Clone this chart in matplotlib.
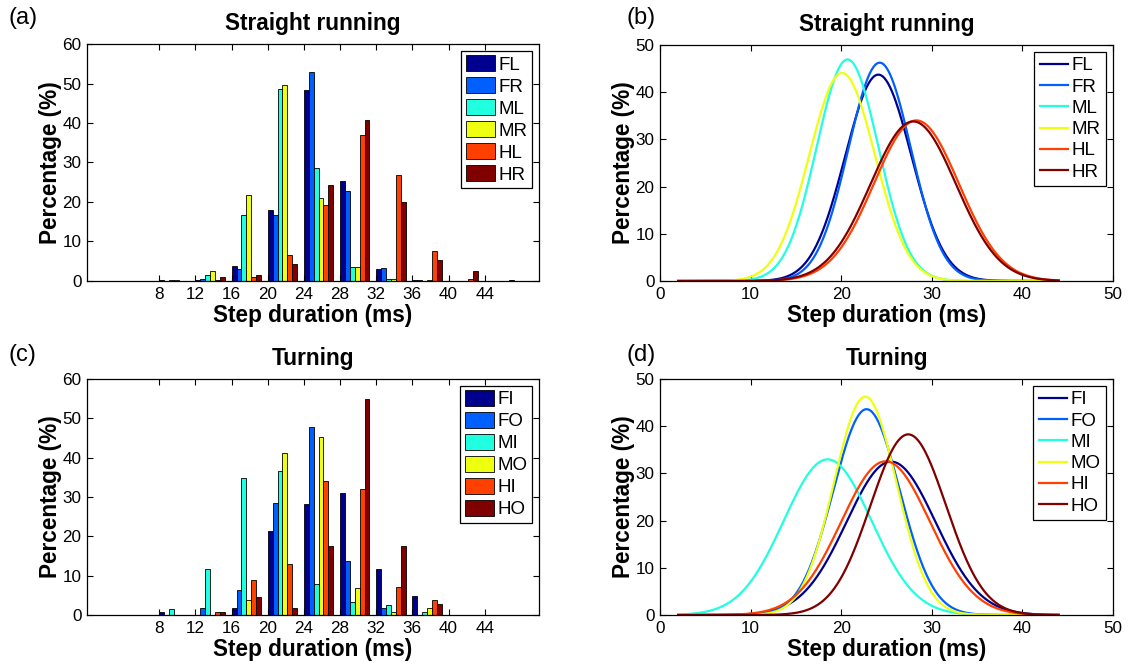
import numpy as np
import matplotlib.pyplot as plt

plt.rcParams['font.family'] = ['Liberation Sans', 'DejaVu Sans']

# histogram bin centres (ms)
bins = [8, 12, 16, 20, 24, 28, 32, 36, 40, 44]

straight_legs = ['FL', 'FR', 'ML', 'MR', 'HL', 'HR']
turning_legs = ['FI', 'FO', 'MI', 'MO', 'HI', 'HO']
leg_colors = ['#00008F', '#0060FF', '#20FFDF', '#EFFF10', '#FF4000', '#800000']

# percentage of steps in each bin, one row per leg
straight_pct = [
    [0.3, 0.3, 3.9, 18.1, 48.3, 25.4, 3.0, 0.3, 0.0, 0.0],
    [0.0, 0.5, 3.0, 16.6, 53.0, 22.9, 3.4, 0.3, 0.0, 0.0],
    [0.3, 1.4, 16.8, 48.5, 28.6, 3.6, 0.5, 0.0, 0.0, 0.0],
    [0.3, 2.6, 21.7, 49.7, 21.0, 3.6, 0.5, 0.2, 0.0, 0.0],
    [0.0, 0.3, 0.9, 6.7, 19.2, 36.9, 26.9, 7.7, 0.6, 0.0],
    [0.1, 1.1, 1.5, 4.4, 24.2, 40.8, 20.1, 5.2, 2.6, 0.3],
]
turning_pct = [
    [0.85, 0.0, 1.9, 21.4, 28.1, 31.1, 11.6, 4.8, 0.0, 0.0],
    [0.0, 1.7, 6.3, 28.5, 47.8, 13.7, 1.7, 0.0, 0.0, 0.0],
    [1.6, 11.6, 34.8, 36.6, 7.9, 3.4, 2.6, 0.85, 0.0, 0.0],
    [0.0, 0.0, 3.9, 41.2, 45.3, 6.8, 0.85, 1.8, 0.0, 0.0],
    [0.0, 0.85, 8.9, 12.9, 34.0, 32.0, 7.0, 3.9, 0.0, 0.0],
    [0.0, 0.85, 4.6, 1.7, 17.5, 54.8, 17.5, 2.7, 0.0, 0.0],
]

# fitted normal distributions (mean, sd in ms)
straight_mean = [24.1, 24.25, 20.7, 20.1, 28.3, 27.95]
straight_sd = [3.65, 3.45, 3.40, 3.62, 4.69, 4.72]
turning_mean = [25.5, 22.8, 18.5, 22.65, 24.9, 27.4]
turning_sd = [4.91, 3.66, 4.84, 3.45, 4.90, 4.17]

bin_width = 4.0
fit_range = (2, 44)

fig = plt.figure(figsize=(11.33, 6.64), dpi=100)
W, H = 1133, 664
LABEL_FS = 16.3


def add_axes(left, top, right, bottom):
    return fig.add_axes([left / W, 1 - bottom / H, (right - left) / W, (bottom - top) / H])


def decorate(ax, title):
    ax.tick_params(direction='in', length=4, width=0.8, top=True, right=True,
                   labelsize=12.3, pad=4)
    for s in ax.spines.values():
        s.set_linewidth(0.9)
    ax.set_title(title, fontsize=LABEL_FS, fontweight='bold', pad=10)
    ax.set_xlabel('Step duration (ms)', fontsize=LABEL_FS, fontweight='bold', labelpad=1.5)
    ax.set_ylabel('Percentage (%)', fontsize=LABEL_FS, fontweight='bold', labelpad=0)


def bar_panel(ax, pct, names, title):
    w = 0.54
    x = np.array(bins, dtype=float)
    for i in range(len(names)):
        ax.bar(x + w / 2 + i * w, pct[i], width=w, color=leg_colors[i],
               edgecolor='black', linewidth=0.6, label=names[i])
    ax.set_xlim(0, 50)
    ax.set_ylim(0, 60)
    ax.set_xticks(bins)
    ax.set_yticks(range(0, 61, 10))
    decorate(ax, title)
    leg = ax.legend(loc='upper right', fontsize=13.5, handlelength=1.55, handleheight=0.9,
                    handletextpad=0.2, labelspacing=0.2, borderpad=0.25,
                    borderaxespad=0.35, fancybox=False, framealpha=1)
    leg.get_frame().set_edgecolor('black')
    leg.get_frame().set_linewidth(0.9)


def fit_panel(ax, means, sds, names, title):
    xs = np.linspace(fit_range[0], fit_range[1], 400)
    for i in range(len(names)):
        y = 100 * bin_width / (sds[i] * np.sqrt(2 * np.pi)) * np.exp(-0.5 * ((xs - means[i]) / sds[i]) ** 2)
        ax.plot(xs, y, color=leg_colors[i], linewidth=1.6, label=names[i])
    ax.set_xlim(0, 50)
    ax.set_ylim(0, 50)
    ax.set_xticks(range(0, 51, 10))
    ax.set_yticks(range(0, 51, 10))
    decorate(ax, title)
    leg = ax.legend(loc='upper right', fontsize=13.5, handlelength=1.5,
                    handletextpad=0.2, labelspacing=0.22, borderpad=0.3,
                    borderaxespad=0.35, fancybox=False, framealpha=1)
    leg.get_frame().set_edgecolor('black')
    leg.get_frame().set_linewidth(0.9)


ax_a = add_axes(87, 44, 539, 281)
ax_b = add_axes(660, 45, 1113, 281)
ax_c = add_axes(87, 379, 539, 615)
ax_d = add_axes(660, 379, 1113, 615)

bar_panel(ax_a, straight_pct, straight_legs, 'Straight running')
fit_panel(ax_b, straight_mean, straight_sd, straight_legs, 'Straight running')
bar_panel(ax_c, turning_pct, turning_legs, 'Turning')
fit_panel(ax_d, turning_mean, turning_sd, turning_legs, 'Turning')

for lab, (px, py) in zip(['(a)', '(b)', '(c)', '(d)'],
                         [(8, 18), (627, 18), (8, 355), (627, 355)]):
    fig.text(px / W, 1 - py / H, lab, fontsize=17, ha='left', va='center')

fig.savefig('out.png', dpi=100)
